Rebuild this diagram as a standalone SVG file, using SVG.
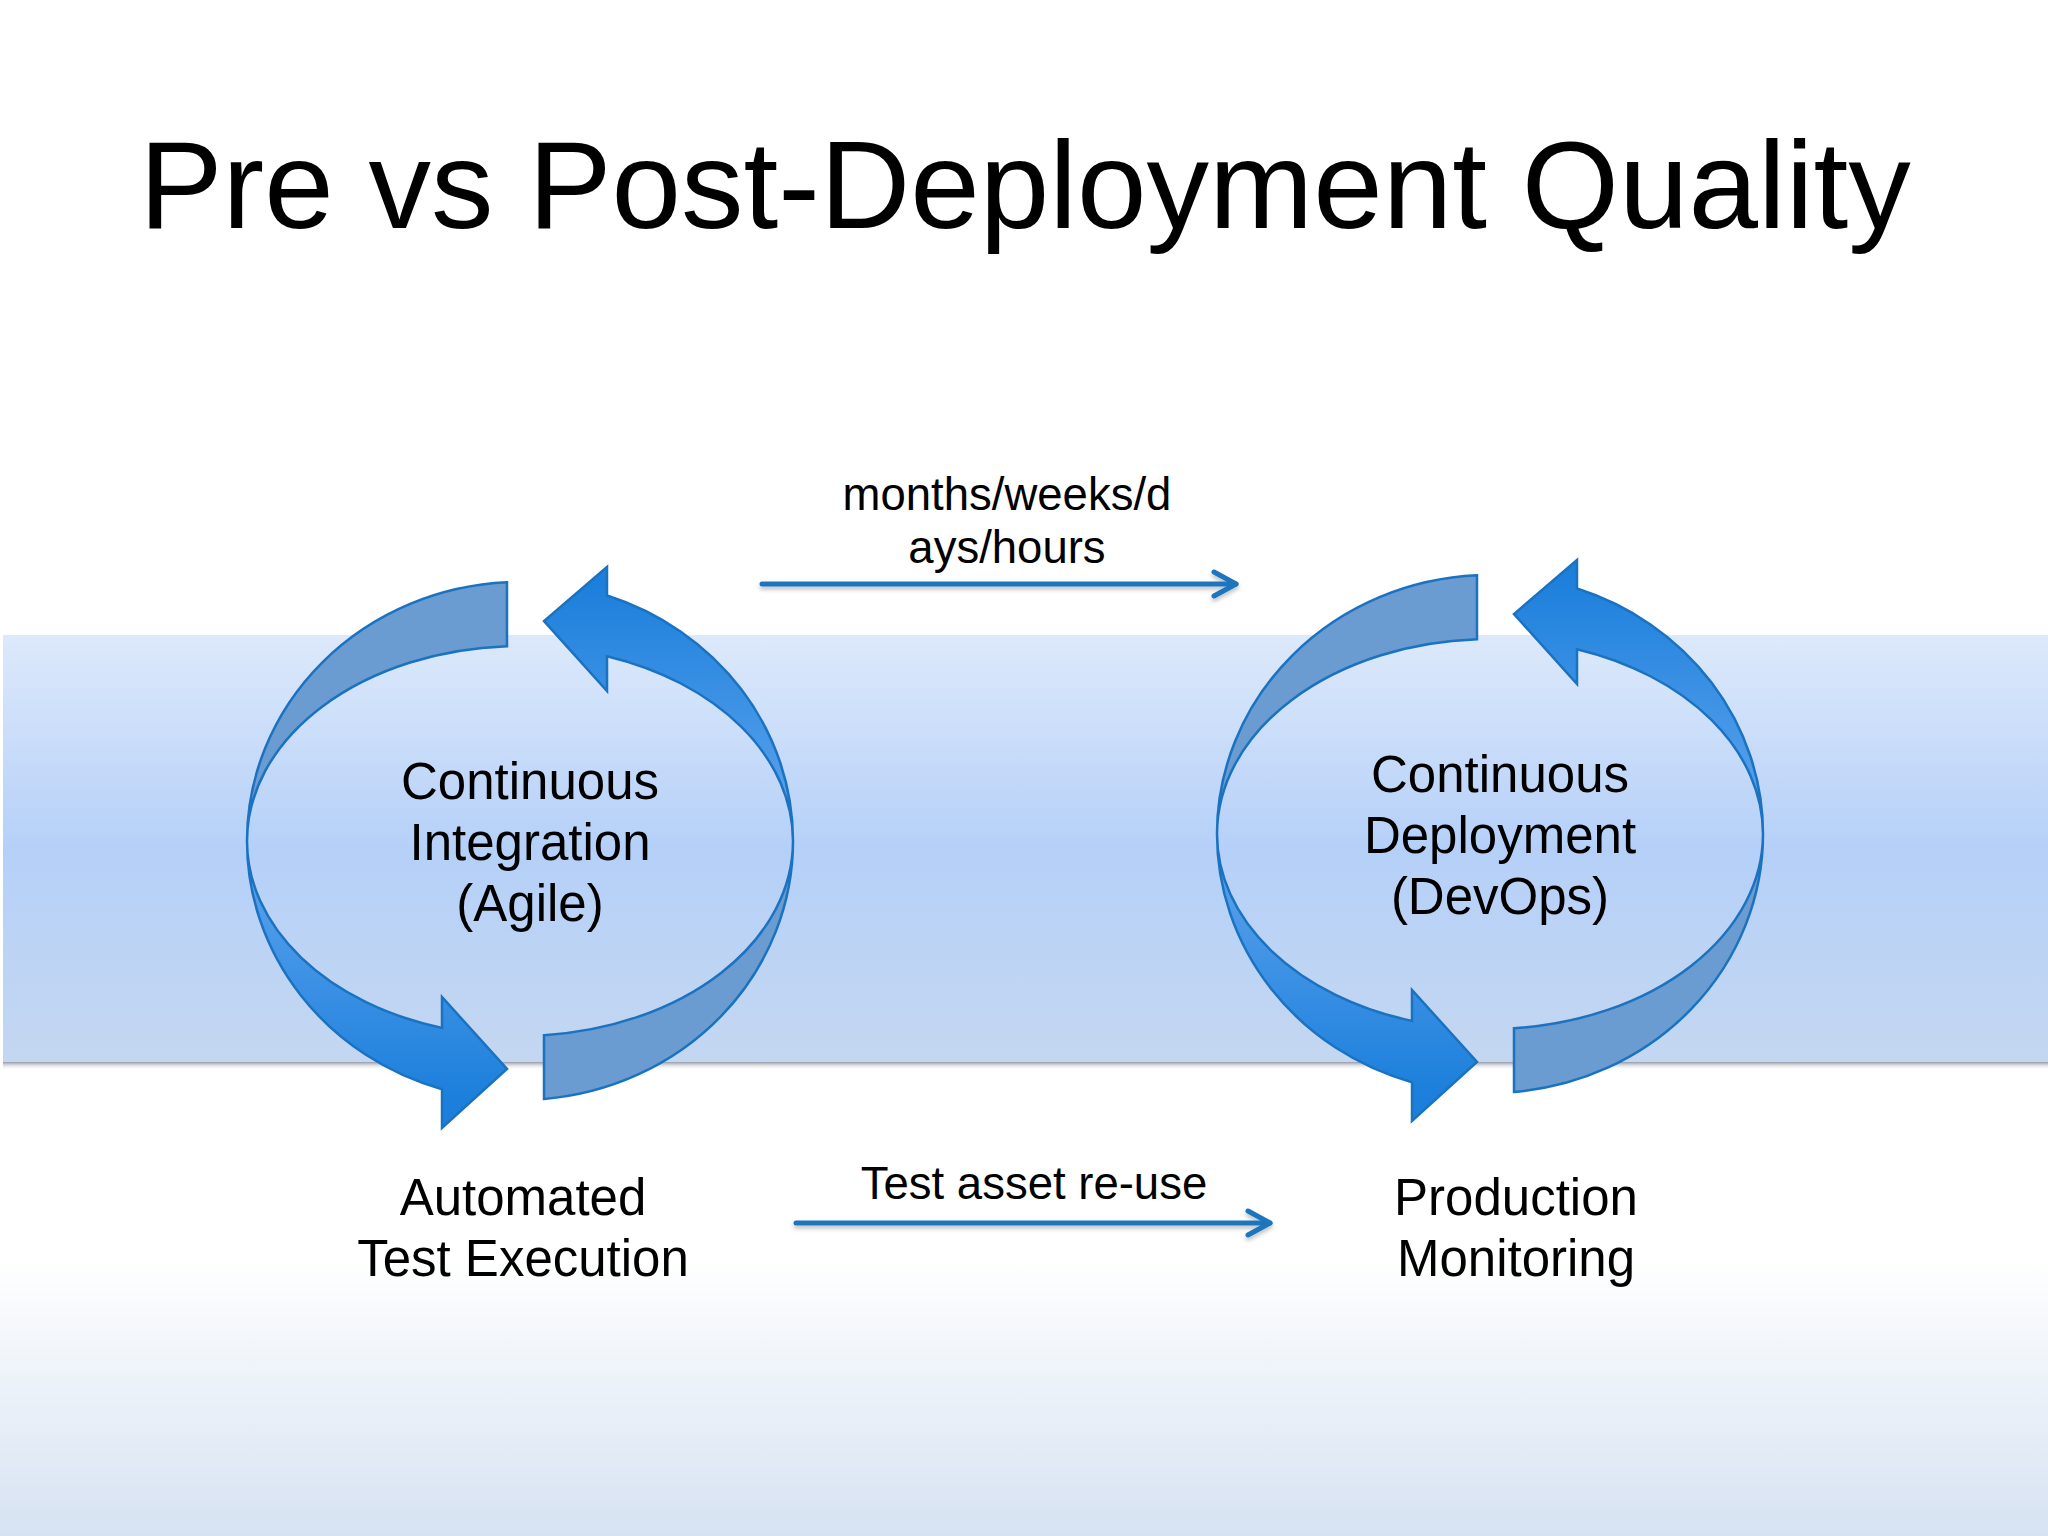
<svg xmlns="http://www.w3.org/2000/svg" width="2048" height="1536" viewBox="0 0 2048 1536">
  <defs>
    <linearGradient id="bgGrad" x1="0" y1="0" x2="0" y2="1536" gradientUnits="userSpaceOnUse">
      <stop offset="0" stop-color="#ffffff"/>
      <stop offset="0.82" stop-color="#ffffff"/>
      <stop offset="1" stop-color="#d6e2f2"/>
    </linearGradient>
    <linearGradient id="bandGrad" x1="0" y1="635" x2="0" y2="1062" gradientUnits="userSpaceOnUse">
      <stop offset="0" stop-color="#dde9fb"/>
      <stop offset="0.5" stop-color="#b5d0f8"/>
      <stop offset="1" stop-color="#c4d7f1"/>
    </linearGradient>
    <linearGradient id="shadowGrad" x1="0" y1="0" x2="0" y2="1">
      <stop offset="0" stop-color="#8a8fa0" stop-opacity="0.9"/>
      <stop offset="1" stop-color="#ffffff" stop-opacity="0"/>
    </linearGradient>
    <linearGradient id="frontUp" x1="0" y1="841" x2="0" y2="580" gradientUnits="userSpaceOnUse">
      <stop offset="0" stop-color="#62a6ef"/>
      <stop offset="1" stop-color="#1b7fdb"/>
    </linearGradient>
    <linearGradient id="frontDown" x1="0" y1="841" x2="0" y2="1100" gradientUnits="userSpaceOnUse">
      <stop offset="0" stop-color="#62a6ef"/>
      <stop offset="1" stop-color="#1b7fdb"/>
    </linearGradient>
    <filter id="lineShadow" x="-5%" y="-100%" width="110%" height="300%">
      <feDropShadow dx="0" dy="3" stdDeviation="2" flood-color="#000000" flood-opacity="0.25"/>
    </filter>
    <marker id="openArrow" markerUnits="userSpaceOnUse" viewBox="0 0 30 30" refX="26" refY="15" markerWidth="30" markerHeight="30" orient="auto">
      <path d="M4,3 L26,15 L4,27" fill="none" stroke="#1f74bd" stroke-width="5" stroke-linecap="round" stroke-linejoin="round"/>
    </marker>
    <g id="cycleShape">
      <path class="back" d="M507,582.3 A273,259 0 0 0 247,841 A273,195 0 0 1 507,646.2 Z"/>
      <path class="back" d="M544,1099 A273,259 0 0 0 793,841 A273,195 0 0 1 544,1035.2 Z"/>
      <path class="front" fill="url(#frontDown)" d="M247,841 A273,259 0 0 0 442,1089.2 L442,1128 L507,1069 L442,997 L442,1027.9 A273,195 0 0 1 247,841 Z"/>
      <path class="front" fill="url(#frontUp)" d="M793,841 A273,259 0 0 0 607,595.5 L607,567 L544,621 L607,691 L607,656.2 A273,195 0 0 1 793,841 Z"/>
    </g>
  </defs>
  <style>
    .back { fill: #6a9bd1; stroke: #1a72c0; stroke-width: 2.5; stroke-linejoin: miter; }
    .front { stroke: #1a72c0; stroke-width: 2.5; stroke-linejoin: miter; }
    .title { font-family: "Liberation Sans", Arial, sans-serif; font-size: 125px; fill: #000000; text-anchor: middle; }
    .label { font-family: "Liberation Sans", Arial, sans-serif; font-size: 51px; fill: #000000; text-anchor: middle; }
    .small { font-family: "Liberation Sans", Arial, sans-serif; font-size: 45.5px; fill: #000000; text-anchor: middle; }
    .conn { stroke: #1f74bd; stroke-width: 5; fill: none; stroke-linecap: round; }
  </style>

  <g id="background">
    <rect x="0" y="0" width="2048" height="1536" fill="url(#bgGrad)"/>
    <rect x="3" y="1062" width="2045" height="8" fill="url(#shadowGrad)"/>
    <rect x="3" y="635" width="2045" height="427" fill="url(#bandGrad)"/>
  </g>

  <g id="title">
    <text class="title" x="1025" y="228">Pre vs Post-Deployment Quality</text>
  </g>

  <g id="node-ci">
    <use href="#cycleShape"/>
    <text class="label" x="530" y="799">Continuous</text>
    <text class="label" x="530" y="860">Integration</text>
    <text class="label" x="530" y="921">(Agile)</text>
  </g>

  <g id="node-cd">
    <use href="#cycleShape" transform="translate(970,-7)"/>
    <text class="label" x="1500" y="792">Continuous</text>
    <text class="label" x="1500" y="853">Deployment</text>
    <text class="label" x="1500" y="914">(DevOps)</text>
  </g>

  <g id="node-ate">
    <text class="label" x="523" y="1215">Automated</text>
    <text class="label" x="523" y="1276">Test Execution</text>
  </g>

  <g id="node-pm">
    <text class="label" x="1516" y="1215">Production</text>
    <text class="label" x="1516" y="1276">Monitoring</text>
  </g>

  <g id="connectors">
    <g filter="url(#lineShadow)">
      <line class="conn" x1="762" y1="584" x2="1236" y2="584" marker-end="url(#openArrow)"/>
      <line class="conn" x1="796" y1="1223" x2="1270" y2="1223" marker-end="url(#openArrow)"/>
    </g>
    <text class="small" x="1007" y="510">months/weeks/d</text>
    <text class="small" x="1007" y="563">ays/hours</text>
    <text class="small" x="1034" y="1199">Test asset re-use</text>
  </g>
</svg>
